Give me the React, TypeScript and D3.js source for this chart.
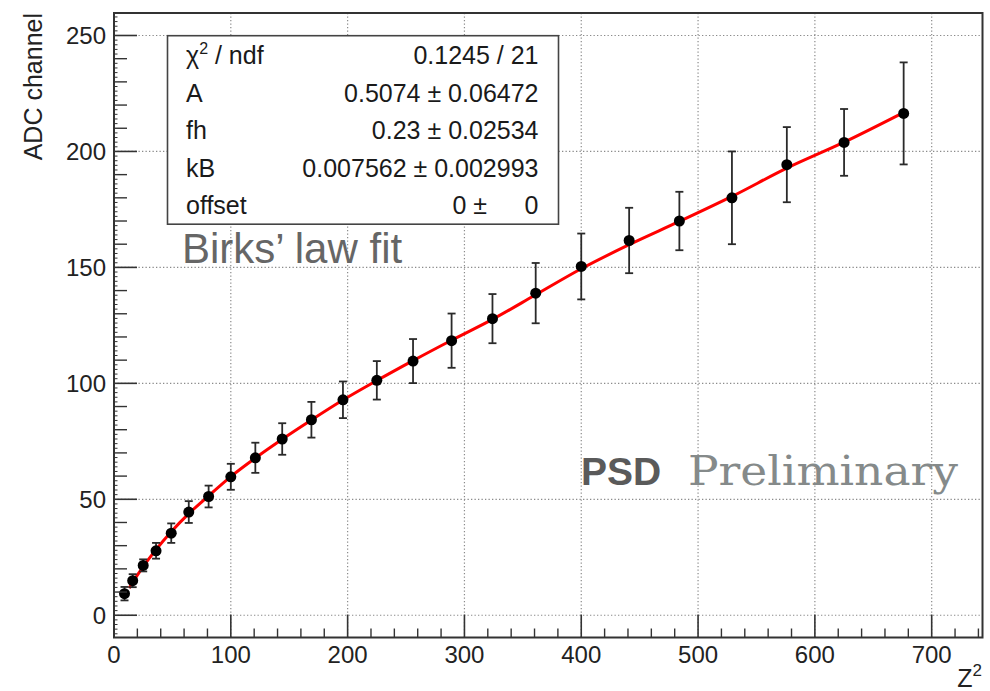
import React from "react";
import * as d3 from "d3";

const zSquared = [9, 16, 25, 36, 49, 64, 81, 100, 121, 144, 169, 196, 225, 256, 289, 324, 361, 400, 441, 484, 529, 576, 625, 676];
const adcValues = [9.3, 14.9, 21.5, 27.8, 35.4, 44.5, 51.2, 59.7, 67.9, 76.0, 84.3, 92.9, 101.3, 109.6, 118.4, 127.9, 138.9, 150.4, 161.6, 170.0, 180.0, 194.3, 203.9, 216.4];
const adcErrors = [2.9, 2.8, 2.6, 3.4, 4.2, 4.7, 4.7, 5.6, 6.5, 6.8, 7.7, 7.9, 8.3, 9.5, 11.7, 10.6, 13.0, 14.2, 14.1, 12.6, 20.0, 16.2, 14.4, 22.0];

const fitX = [13, 16, 25, 36, 49, 64, 81, 100, 121, 144, 169, 196, 225, 256, 289, 324, 361, 400, 441, 484, 529, 576, 625, 672];
const fitY = [11.7, 14.2, 21.0, 28.3, 36.0, 43.8, 51.5, 59.8, 67.8, 75.9, 84.2, 92.8, 101.2, 109.8, 118.6, 127.6, 138.2, 149.4, 159.8, 169.8, 180.6, 192.8, 204.0, 215.8];

const xMajorTicks = [0, 100, 200, 300, 400, 500, 600, 700];
const yMajorTicks = [0, 50, 100, 150, 200, 250];

const statLabels = ["χ", "A", "fh", "kB", "offset"];
const statValues = ["0.1245 / 21", "0.5074 ± 0.06472", "0.23 ± 0.02534", "0.007562 ± 0.002993", ""];

const X_DOMAIN: [number, number] = [0, 743.5];
const Y_DOMAIN: [number, number] = [-9.6, 259.7];

export default function App() {
  const left = 114, right = 982.5, top = 13, bottom = 637.5;
  const x = d3.scaleLinear().domain(X_DOMAIN).range([left, right]);
  const y = d3.scaleLinear().domain(Y_DOMAIN).range([bottom, top]);

  const xMinor = d3.range(0, 741, 20).filter((v) => v % 100 !== 0);
  const ySecondary = d3.range(0, 260, 10).filter((v) => v % 50 !== 0);
  const yTertiary = d3.range(-8, 260, 2).filter((v) => v % 10 !== 0);

  const line = d3
    .line<number>()
    .x((_, i) => x(fitX[i]))
    .y((d) => y(d))
    .curve(d3.curveMonotoneX);

  const sans = "'Liberation Sans', Arial, Helvetica, sans-serif";
  const axisColor = "#333";
  const gridColor = "#8a8a8a";
  const statRowsY = [64, 101.5, 139, 176.5, 214];

  return (
    <svg width={990} height={691} style={{ position: "absolute", left: 0, top: 0, background: "#fff" }} fontFamily={sans}>
      <rect x={0} y={0} width={990} height={691} fill="#fff" />
      {/* grid */}
      {xMajorTicks.filter((v) => v > 0).map((v) => (
        <line key={"gx" + v} x1={x(v)} x2={x(v)} y1={top} y2={bottom} stroke={gridColor} strokeWidth={1.2} strokeDasharray="1.3,2.2" />
      ))}
      {yMajorTicks.map((v) => (
        <line key={"gy" + v} x1={left} x2={right} y1={y(v)} y2={y(v)} stroke={gridColor} strokeWidth={1.2} strokeDasharray="1.3,2.2" />
      ))}

      {/* stats box */}
      <rect x={167.5} y={35.7} width={391} height={188.5} fill="#fff" stroke="#444" strokeWidth={1.6} />
      {statLabels.map((lab, i) => (
        <text key={"sl" + i} x={186} y={statRowsY[i]} fontSize={25} fill="#1a1a1a">
          {lab}
          {i === 0 ? (
            <>
              <tspan fontSize={16} dy={-10}>2</tspan>
              <tspan dy={10}> / ndf</tspan>
            </>
          ) : null}
        </text>
      ))}
      {statValues.map((val, i) =>
        val ? (
          <text key={"sv" + i} x={538.5} y={statRowsY[i]} fontSize={25} fill="#1a1a1a" textAnchor="end">
            {val}
          </text>
        ) : null
      )}
      <text x={487} y={statRowsY[4]} fontSize={25} fill="#1a1a1a" textAnchor="end">0 ±</text>
      <text x={538.5} y={statRowsY[4]} fontSize={25} fill="#1a1a1a" textAnchor="end">0</text>

      {/* annotations */}
      <text x={182} y={263} fontSize={42} fill="#666">Birks’ law fit</text>
      <text x={581} y={485} fontSize={39} fontWeight="bold" fill="#5a5a5a">PSD</text>
      <text x={688} y={485} fontSize={41} fill="#858a8a" fontFamily="'DejaVu Serif', 'Liberation Serif', serif" textLength={270} lengthAdjust="spacingAndGlyphs">Preliminary</text>

      {/* fit curve */}
      <path d={line(fitY) || ""} fill="none" stroke="#ff0000" strokeWidth={3} strokeLinejoin="round" />

      {/* error bars and points */}
      {zSquared.map((zv, i) => {
        const cx = x(zv);
        const y1 = y(adcValues[i] + adcErrors[i]);
        const y2 = y(adcValues[i] - adcErrors[i]);
        return (
          <g key={"p" + i}>
            <line x1={cx} x2={cx} y1={y1} y2={y2} stroke="#2a2a2a" strokeWidth={1.8} />
            <line x1={cx - 4} x2={cx + 4} y1={y1} y2={y1} stroke="#2a2a2a" strokeWidth={1.8} />
            <line x1={cx - 4} x2={cx + 4} y1={y2} y2={y2} stroke="#2a2a2a" strokeWidth={1.8} />
            <circle cx={cx} cy={y(adcValues[i])} r={5.5} fill="#000" />
          </g>
        );
      })}

      {/* frame */}
      <rect x={left} y={top} width={right - left} height={bottom - top} fill="none" stroke={axisColor} strokeWidth={2} />

      {/* x ticks */}
      {xMajorTicks.map((v) => (
        <line key={"xt" + v} x1={x(v)} x2={x(v)} y1={bottom} y2={bottom - 23} stroke={axisColor} strokeWidth={1.6} />
      ))}
      {xMinor.map((v) => (
        <line key={"xm" + v} x1={x(v)} x2={x(v)} y1={bottom} y2={bottom - 9} stroke={axisColor} strokeWidth={1.4} />
      ))}
      {xMajorTicks.map((v) => (
        <text key={"xl" + v} x={x(v)} y={663} fontSize={24} fill="#222" textAnchor="middle">{v}</text>
      ))}

      {/* y ticks */}
      {yMajorTicks.map((v) => (
        <line key={"yt" + v} x1={left} x2={left + 23} y1={y(v)} y2={y(v)} stroke={axisColor} strokeWidth={1.6} />
      ))}
      {ySecondary.map((v) => (
        <line key={"ys" + v} x1={left} x2={left + 13} y1={y(v)} y2={y(v)} stroke={axisColor} strokeWidth={1.4} />
      ))}
      {yTertiary.map((v) => (
        <line key={"yy" + v} x1={left} x2={left + 3.5} y1={y(v)} y2={y(v)} stroke={axisColor} strokeWidth={1} />
      ))}
      {yMajorTicks.map((v) => (
        <text key={"yl" + v} x={106} y={y(v) + 8.5} fontSize={24} fill="#222" textAnchor="end">{v}</text>
      ))}

      {/* axis titles */}
      <text transform="translate(42,13) rotate(-90)" fontSize={25} fill="#222" textAnchor="end">ADC channel</text>
      <text x={982} y={687} fontSize={25} fill="#222" textAnchor="end">
        Z<tspan fontSize={17} dy={-11}>2</tspan>
      </text>
    </svg>
  );
}
